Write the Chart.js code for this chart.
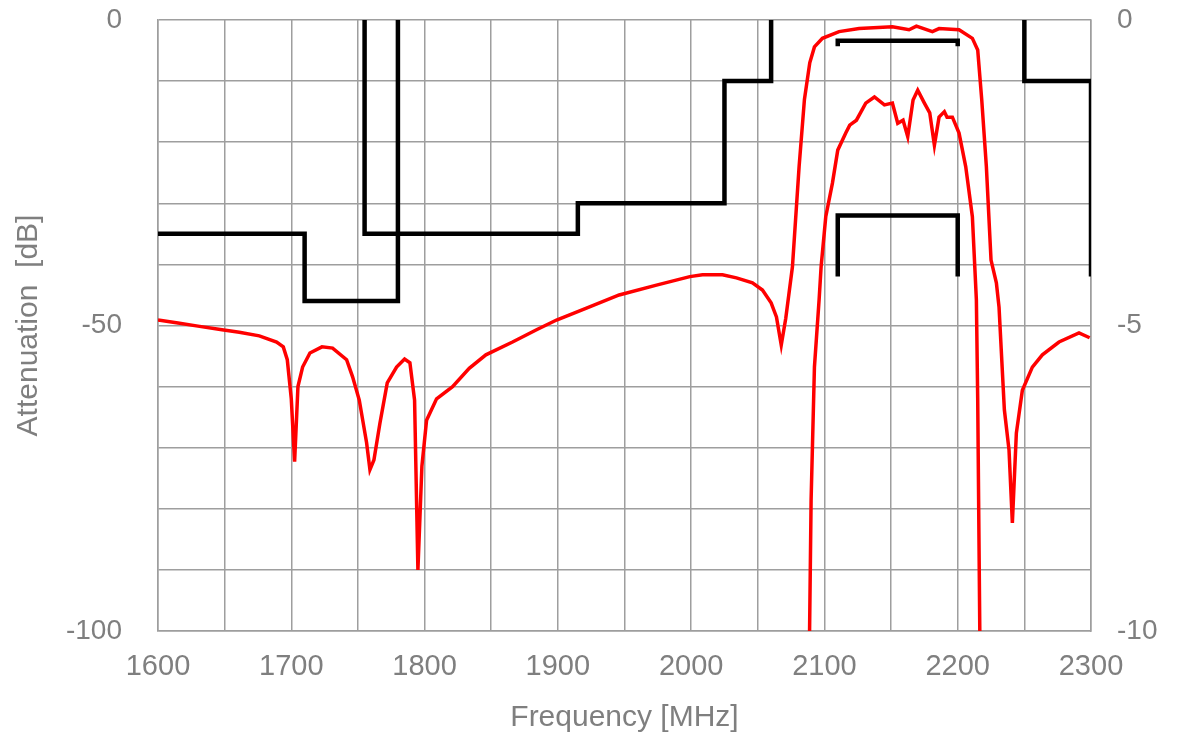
<!DOCTYPE html>
<html>
<head>
<meta charset="utf-8">
<title>Attenuation vs Frequency</title>
<script src="https://cdn.jsdelivr.net/npm/chart.js@4/dist/chart.umd.min.js"></script>
<style>
  html, body { margin: 0; padding: 0; background: #fff; }
  #wrap { width: 1178px; height: 744px; }
</style>
</head>
<body>
<div id="wrap"><canvas id="attChart" width="1178" height="744"></canvas></div>
<script>
// Wide-band attenuation (left axis, dB)
const wideFreq = [1600, 1615, 1630, 1648, 1661, 1676, 1689, 1694, 1697, 1700, 1702.5, 1705, 1708.5, 1714, 1723, 1731,
  1741.5, 1746, 1751, 1756.5, 1759, 1762, 1766.5, 1772, 1779, 1785, 1789, 1792.5, 1795, 1798, 1801.5, 1809, 1821,
  1833.5, 1846, 1866, 1884, 1899, 1921, 1946, 1974, 1999, 2008.5, 2023.5, 2034, 2046, 2053.5, 2060, 2064, 2067.6,
  2071, 2076, 2081, 2085, 2089, 2092.5, 2098.5, 2111, 2126, 2151, 2163.5, 2169, 2181, 2186, 2201, 2211, 2215, 2218,
  2221.5, 2225, 2229, 2231, 2235, 2238.5, 2241, 2244, 2248.5, 2256, 2263.5, 2276, 2291, 2299];
const wideAtt = [-49.1, -49.6, -50.1, -50.7, -51.1, -51.7, -52.7, -53.5, -55.6, -62, -72.3, -60, -56.8, -54.5, -53.5, -53.7,
  -55.6, -58.4, -62.2, -69.2, -73.6, -72, -66, -59.4, -56.8, -55.5, -56.1, -62.2, -90, -73, -65.5, -62, -60,
  -57, -54.8, -52.7, -50.7, -49.1, -47.2, -45, -43.4, -42, -41.7, -41.7, -42.2, -43, -44.2, -46.3, -48.6, -53.2,
  -48.8, -40.4, -24, -13, -7, -4.4, -3, -1.9, -1.4, -1.1, -1.6, -1.0, -1.9, -1.4, -1.6, -3, -4.9, -13,
  -24, -39.3, -43, -47, -63.8, -70.4, -82.3, -67.6, -60.6, -56.8, -54.8, -52.7, -51.2, -52];

// Passband insertion loss zoom (right axis, dB)
const passFreq = [2088.7, 2090, 2092.5, 2096, 2097.5, 2101, 2106, 2110, 2116, 2119, 2124, 2131, 2137.5, 2145, 2151,
  2155, 2159, 2162.5, 2166.5, 2170, 2175, 2179, 2182.5, 2186, 2190, 2192, 2196, 2201, 2206, 2211, 2214, 2215, 2216.7];
const passLoss = [-10.3, -7.86, -5.68, -4.58, -4.04, -3.22, -2.67, -2.13, -1.85, -1.72, -1.64, -1.36, -1.26, -1.39, -1.36,
  -1.69, -1.64, -1.91, -1.31, -1.15, -1.36, -1.52, -2.05, -1.59, -1.5, -1.59, -1.59, -1.85, -2.4, -3.22, -4.58, -6.2, -10.3];

// Spec masks (left axis)
const maskLowFreq = [1600, 1710, 1710, 1780, 1780];
const maskLowAtt = [-35, -35, -46, -46, 0];
const maskMidFreq = [1755, 1755, 1915, 1915, 2025, 2025, 2060, 2060];
const maskMidAtt = [0, -35, -35, -30, -30, -10, -10, 0];
const maskHighFreq = [2250, 2250, 2300, 2300];
const maskHighAtt = [0, -10, -10, -42];
const specTopFreq = [2110, 2110, 2200, 2200];
const specTopAtt = [-4.3, -3.4, -3.4, -4.3];
// Insertion loss spec (right axis)
const specLossFreq = [2110, 2110, 2200, 2200];
const specLossDb = [-4.2, -3.2, -3.2, -4.2];

// Axis ticks
const freqTicks = [1600, 1700, 1800, 1900, 2000, 2100, 2200, 2300];
const attTicks = [0, -50, -100];
const lossTicks = [0, -5, -10];

const TEXT = "#7f7f7f";
const GRID = "#9e9e9e";
const FONT = "'Liberation Sans', Arial, sans-serif";

function toPoints(xs, ys) {
  return xs.map((x, i) => ({ x: x, y: ys[i] }));
}

function lineDs(label, xs, ys, color, width, axis) {
  return {
    label: label,
    data: toPoints(xs, ys),
    borderColor: color,
    backgroundColor: color,
    borderWidth: width,
    pointRadius: 0,
    tension: 0,
    fill: false,
    borderJoinStyle: "miter",
    yAxisID: axis || "y",
  };
}

// Fix the side axis widths; drop the tick padding from the vertical label overflow
function fitSide(width) {
  return (s) => {
    s.width = width;
    s.paddingTop = 0;
    s.paddingBottom = 0;
  };
}

const datasets = [
  lineDs("Mask low", maskLowFreq, maskLowAtt, "#000", 4.5),
  lineDs("Mask mid", maskMidFreq, maskMidAtt, "#000", 4.5),
  lineDs("Mask high", maskHighFreq, maskHighAtt, "#000", 4.5),
  lineDs("Spec top", specTopFreq, specTopAtt, "#000", 4.5),
  lineDs("Spec loss", specLossFreq, specLossDb, "#000", 4.5, "y2"),
  lineDs("Attenuation", wideFreq, wideAtt, "#ff0000", 3.5),
  lineDs("Insertion loss", passFreq, passLoss, "#ff0000", 3.5, "y2"),
];

new Chart(document.getElementById("attChart").getContext("2d"), {
  type: "line",
  data: { datasets: datasets },
  options: {
    responsive: false,
    animation: false,
    layout: { padding: { top: 20, left: 0, right: 0, bottom: 0 } },
    plugins: { legend: { display: false }, tooltip: { enabled: false } },
    scales: {
      x: {
        type: "linear",
        min: 1600,
        max: 2300,
        afterFit: (s) => { s.height = 113; },
        afterBuildTicks: (s) => {
          s.ticks = [];
          for (let v = 1600; v <= 2300; v += 50) s.ticks.push({ value: v });
        },
        ticks: {
          color: TEXT,
          font: { family: FONT, size: 29 },
          padding: 19,
          maxRotation: 0,
          autoSkip: false,
          callback: (v) => (freqTicks.includes(v) ? String(v) : ""),
        },
        grid: { color: GRID, lineWidth: 1.5, drawTicks: false },
        border: { color: GRID, width: 1.5 },
        title: {
          display: true,
          text: "Frequency [MHz]",
          color: TEXT,
          font: { family: FONT, size: 30 },
          padding: { top: 0, bottom: 8 },
        },
      },
      y: {
        position: "left",
        min: -100,
        max: 0,
        afterFit: fitSide(158),
        ticks: {
          stepSize: 10,
          color: TEXT,
          font: { family: FONT, size: 28 },
          padding: 36,
          autoSkip: false,
          callback: (v) => (attTicks.includes(v) ? String(v) : ""),
        },
        grid: { color: GRID, lineWidth: 1.5, drawTicks: false },
        border: { color: GRID, width: 1.5 },
        title: {
          display: true,
          text: "Attenuation  [dB]",
          color: TEXT,
          font: { family: FONT, size: 30 },
          padding: { top: 11, bottom: 0 },
        },
      },
      y2: {
        position: "right",
        min: -10,
        max: 0,
        afterFit: fitSide(87),
        ticks: {
          stepSize: 1,
          color: TEXT,
          font: { family: FONT, size: 28 },
          padding: 26,
          autoSkip: false,
          callback: (v) => (lossTicks.includes(v) ? String(v) : ""),
        },
        grid: { display: false, drawTicks: false },
        border: { color: GRID, width: 1.5 },
      },
    },
  },
});
</script>
</body>
</html>
